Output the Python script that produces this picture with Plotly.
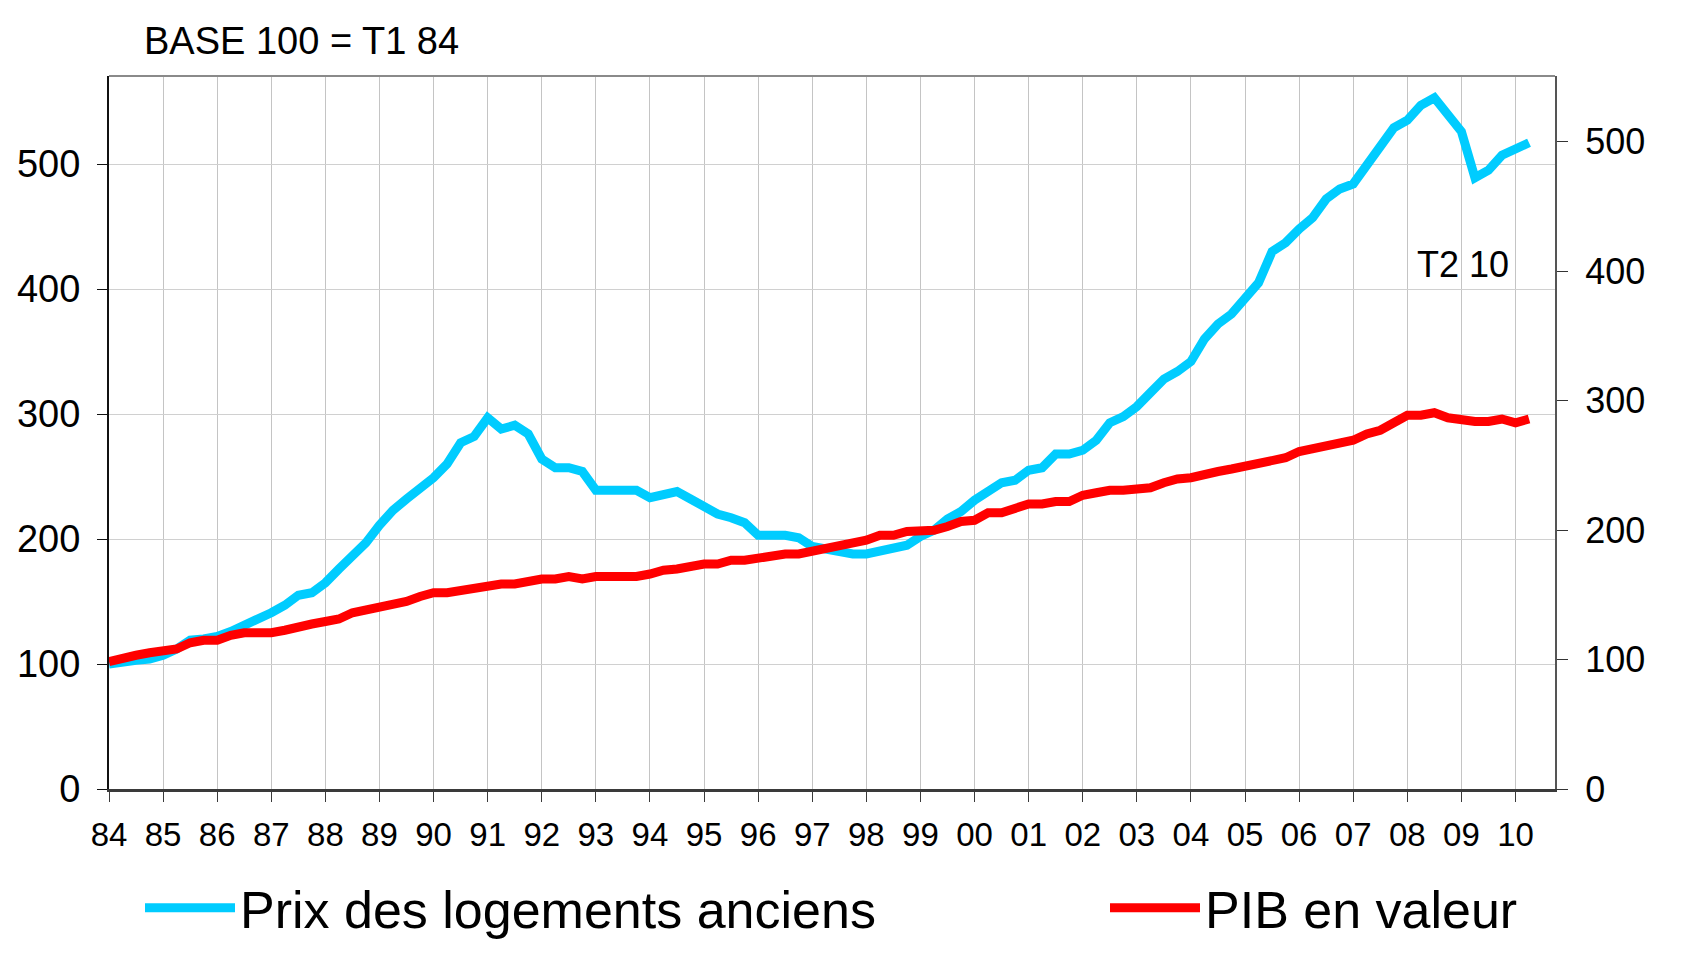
import plotly.graph_objects as go

years = list(range(1984, 2011))
year_labels = ["84", "85", "86", "87", "88", "89", "90", "91", "92", "93", "94", "95", "96",
               "97", "98", "99", "00", "01", "02", "03", "04", "05", "06", "07", "08", "09", "10"]

prix_logements = [
    100, 102, 103, 104,
    107, 112, 119, 120,
    122, 126, 131, 135,
    141, 147, 155, 157,
    165, 176, 186, 197,
    211, 223, 232, 240,
    249, 260, 277, 282,
    297, 288, 291, 284,
    264, 257, 257, 254,
    239, 239, 239, 239,
    233, 236, 238, 232,
    225, 220, 217, 213,
    203, 203, 203, 201,
    194, 192, 190, 188,
    188, 190, 192, 195,
    202, 207, 216, 222,
    231, 239, 245, 247,
    255, 257, 268, 268,
    271, 279, 293, 298,
    306, 317, 328, 334,
    342, 360, 372, 380,
    393, 405, 430, 437,
    448, 457, 472, 480,
    484, 499, 517, 529,
    535, 547, 553, 540,
    526, 489, 495, 507,
    513, 517,
]

pib_valeur = [
    102, 105, 107, 109,
    111, 112, 117, 119,
    119, 123, 125, 125,
    125, 127, 130, 132,
    134, 136, 141, 143,
    146, 148, 150, 154,
    157, 157, 159, 160,
    162, 164, 164, 166,
    168, 168, 170, 168,
    170, 170, 170, 170,
    172, 175, 176, 178,
    180, 180, 183, 183,
    185, 186, 188, 188,
    190, 192, 194, 197,
    199, 203, 203, 206,
    206, 207, 210, 214,
    215, 221, 221, 225,
    228, 228, 230, 230,
    235, 237, 239, 239,
    240, 241, 245, 248,
    249, 252, 254, 256,
    258, 260, 263, 265,
    270, 272, 275, 277,
    279, 284, 287, 293,
    299, 299, 301, 297,
    295, 294, 294, 296,
    293, 296,
]

quarters = [1984 + i / 4 for i in range(len(prix_logements))]

left_ticks = [0, 100, 200, 300, 400, 500]
right_ticks = [0, 100, 200, 300, 400, 500]

FONT = "Liberation Sans, Arial, sans-serif"
# the page body adds an 8px offset; figure coordinates = screen - 8
OFF = 8
W, H = 1702 - OFF, 955 - OFF
ML, MT = 109 - OFF, 76 - OFF
MR, MB = W - (1555 - OFF), H - (789 - OFF)
PW, PH = W - ML - MR, H - MT - MB


def px(sx):
    return (sx - OFF - ML) / PW


def py(sy):
    return (H - MB - (sy - OFF)) / PH


fig = go.Figure()
fig.add_trace(go.Scatter(x=quarters, y=prix_logements, mode="lines",
                         name="Prix des logements anciens", legend="legend",
                         line=dict(color="#00CCFF", width=9)))
fig.add_trace(go.Scatter(x=quarters, y=pib_valeur, mode="lines",
                         name="PIB en valeur", legend="legend2",
                         line=dict(color="#FF0000", width=9)))
# empty helper so the right-hand axis is drawn
fig.add_trace(go.Scatter(x=[quarters[0]], y=[None], yaxis="y2", mode="lines",
                         showlegend=False, hoverinfo="skip"))

legend_common = dict(orientation="h", xref="container", yref="container",
                     xanchor="left", yanchor="middle",
                     font=dict(size=52, family=FONT),
                     itemwidth=90, bgcolor="rgba(0,0,0,0)")

fig.update_layout(
    width=W, height=H,
    margin=dict(l=ML, r=MR, t=MT, b=MB, autoexpand=False),
    paper_bgcolor="white", plot_bgcolor="white",
    font=dict(family=FONT, color="black"),
    xaxis=dict(range=[1984, 2010.73], tickvals=years, ticktext=year_labels,
               showgrid=True, gridcolor="#c4c4c4", gridwidth=1,
               showline=True, linecolor="#3a3a3a", linewidth=3,
               ticks="outside", ticklen=10, tickcolor="#3a3a3a", tickwidth=1,
               tickfont=dict(size=33, family=FONT), ticklabelstandoff=4,
               zeroline=False, automargin=False),
    yaxis=dict(range=[0, 570.4], tickvals=left_ticks,
               showgrid=True, gridcolor="#d0d0d0", gridwidth=1,
               showline=True, linecolor="#111111", linewidth=2,
               ticks="outside", ticklen=10, tickcolor="#111111", tickwidth=1,
               tickfont=dict(size=38, family=FONT), ticklabelstandoff=9,
               zeroline=False, automargin=False),
    yaxis2=dict(range=[0, 550.7], tickvals=right_ticks, overlaying="y", side="right",
                anchor="x", showgrid=False,
                showline=True, linecolor="#555555", linewidth=2,
                ticks="outside", ticklen=11, tickcolor="#333333", tickwidth=1,
                tickfont=dict(size=36, family=FONT), ticklabelstandoff=10,
                zeroline=False, automargin=False),
    showlegend=True,
    legend=dict(x=(140 - OFF) / W, y=1 - (908 - OFF) / H, **legend_common),
    legend2=dict(x=(1105 - OFF) / W, y=1 - (908 - OFF) / H, **legend_common),
    annotations=[
        dict(text="BASE 100 = T1 84", xref="paper", yref="paper",
             x=px(142), y=py(41), xanchor="left", yanchor="middle",
             showarrow=False, font=dict(size=38, family=FONT)),
        dict(text="T2 10", xref="paper", yref="paper",
             x=px(1463), y=py(264), xanchor="center", yanchor="middle",
             showarrow=False, font=dict(size=36, family=FONT)),
    ],
    shapes=[
        dict(type="line", xref="paper", yref="paper", x0=0, x1=1, y0=1, y1=1,
             line=dict(color="#8a8a8a", width=2)),
    ],
)

fig.write_html("out.html")
